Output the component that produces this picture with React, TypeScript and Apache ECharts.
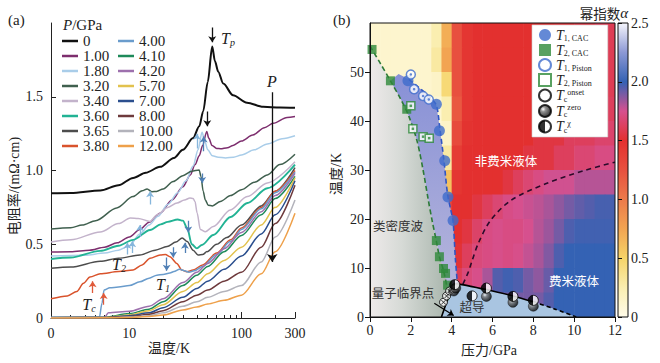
import React, { useEffect, useRef } from 'react';
import * as echarts from 'echarts';

const SERIF = 'Liberation Serif, DejaVu Serif, serif';
const CJK = 'Noto Sans CJK SC, sans-serif';
const MIX = 'Liberation Serif, Noto Sans CJK SC, serif';

// ---------------- Panel (a): resistivity vs temperature ----------------
const pressureLabels = ['0', '1.00', '1.80', '3.20', '3.40', '3.60', '3.65', '3.80', '4.00', '4.10', '4.20', '5.70', '7.00', '8.00', '10.00', '12.00'];
const curveColors = ['#111111', '#7d2e6e', '#a9cde9', '#40604f', '#c3b3cb', '#22b394', '#4d4d4d', '#d9532c', '#6a9ccc', '#1e8a5a', '#9d70ad', '#e2c24e', '#2b4f8e', '#6e3a3c', '#b3b3bb', '#eea04a'];

const rhoP0 = [[2, 0.846], [3, 0.848], [5.5, 0.865], [8, 0.9], [10.8, 0.95], [14, 0.985], [18.8, 1.025], [25, 1.085], [30, 1.14], [37, 1.22], [42, 1.3], [45.5, 1.4], [50, 1.6], [54.8, 1.84], [58, 1.74], [62, 1.67], [68.7, 1.59], [84, 1.51], [112, 1.46], [156, 1.432], [220, 1.427], [300, 1.425]];
const rhoP100 = [[2, 0.448], [3, 0.45], [4.4, 0.46], [6, 0.48], [7.8, 0.51], [10, 0.55], [12.4, 0.6], [15, 0.65], [18.8, 0.71], [24, 0.8], [30, 0.89], [35, 0.97], [38.5, 1.04], [42, 1.1], [45, 1.17], [49, 1.265], [51, 1.22], [54.6, 1.17], [60, 1.15], [65, 1.148], [75, 1.155], [84, 1.17], [100, 1.2], [126, 1.24], [160, 1.29], [192, 1.32], [255, 1.36], [300, 1.366]];
const rhoP180 = [[2, 0.42], [4, 0.425], [6, 0.44], [8, 0.46], [10, 0.49], [12.4, 0.57], [15, 0.63], [18, 0.69], [22, 0.77], [27, 0.85], [32, 0.93], [37, 1.03], [41, 1.14], [44.5, 1.26], [47, 1.2], [50, 1.14], [55, 1.1], [62, 1.09], [72, 1.085], [85, 1.09], [100, 1.105], [130, 1.14], [170, 1.18], [230, 1.215], [300, 1.235]];
const rhoP320 = [[2, 0.604], [3, 0.612], [3.8, 0.63], [5, 0.66], [7.7, 0.746], [10.8, 0.823], [13, 0.862], [14.4, 0.875], [15.9, 0.856], [17.5, 0.858], [20, 0.875], [24.6, 0.925], [30, 0.965], [36, 0.995], [41.9, 1.004], [43.5, 0.96], [45.5, 0.86], [47.6, 0.8], [50.4, 0.765], [55, 0.76], [64.8, 0.79], [80, 0.83], [100, 0.87], [130, 0.92], [170, 0.97], [220, 1.04], [300, 1.11]];
const rhoP340 = [[2, 0.516], [3, 0.53], [5.5, 0.583], [8, 0.64], [10.2, 0.678], [12, 0.675], [15.3, 0.655], [17.7, 0.7], [22, 0.75], [26.6, 0.78], [31, 0.8], [34.7, 0.814], [37, 0.81], [38.5, 0.79], [40.2, 0.712], [42.9, 0.6], [47.6, 0.585], [56, 0.62], [79.5, 0.733], [112.6, 0.823], [170, 0.916], [300, 1.06]];
const rhoP360 = [[2, 0.4], [3, 0.41], [5.5, 0.455], [8, 0.49], [10.8, 0.53], [15.3, 0.597], [19, 0.635], [22, 0.652], [27, 0.668], [30, 0.66], [32.8, 0.61], [36, 0.5], [40, 0.472], [44.3, 0.495], [56, 0.563], [80, 0.685], [113, 0.78], [170, 0.88], [300, 1.04]];
const rhoP365 = [[2, 0.337], [3, 0.345], [5.5, 0.384], [8, 0.405], [12.4, 0.427], [17, 0.46], [21.7, 0.484], [26, 0.515], [29.6, 0.543], [32.8, 0.518], [37, 0.46], [41, 0.427], [45, 0.43], [49.3, 0.45], [60, 0.5], [74, 0.545], [100, 0.63], [150, 0.76], [200, 0.86], [300, 1.02]];
const rhoP380 = [[2, 0.13], [2.8, 0.15], [3.4, 0.18], [3.9, 0.235], [4.45, 0.278], [5.5, 0.3], [8, 0.315], [10.8, 0.326], [13, 0.36], [15.3, 0.405], [18.8, 0.427], [21, 0.43], [23, 0.416], [26.5, 0.37], [29.3, 0.326], [32.6, 0.314], [37, 0.325], [45, 0.36], [60, 0.44], [80, 0.53], [100, 0.61], [150, 0.75], [200, 0.86], [300, 1.0]];
const rhoP400 = [[2, 0.005], [5.4, 0.005], [5.7, 0.1], [5.95, 0.19], [6.7, 0.205], [8, 0.21], [10, 0.22], [12.4, 0.245], [15, 0.27], [17.6, 0.29], [20, 0.295], [23, 0.305], [25, 0.315], [28, 0.33], [31, 0.32], [34, 0.31], [38, 0.32], [45, 0.35], [60, 0.43], [80, 0.52], [100, 0.6], [150, 0.74], [200, 0.85], [300, 0.99]];
const rhoP410 = [[2, 0.003], [6, 0.005], [10, 0.03], [15, 0.06], [20, 0.11], [30, 0.22], [40, 0.29], [50, 0.35], [70, 0.45], [100, 0.56], [150, 0.7], [200, 0.81], [300, 0.96]];
const rhoP420 = [[2, 0.003], [6, 0.005], [6.5, 0.035], [10, 0.045], [15, 0.08], [20, 0.13], [30, 0.24], [40, 0.31], [50, 0.37], [70, 0.47], [100, 0.58], [150, 0.72], [200, 0.83], [300, 0.98]];
const rhoP570 = [[2, 0.002], [6, 0.004], [10, 0.02], [15, 0.05], [20, 0.09], [30, 0.18], [40, 0.24], [50, 0.3], [70, 0.39], [100, 0.48], [150, 0.63], [200, 0.75], [300, 0.95]];
const rhoP700 = [[2, 0.002], [6, 0.003], [10, 0.015], [15, 0.035], [20, 0.07], [30, 0.14], [40, 0.2], [50, 0.25], [70, 0.33], [100, 0.42], [150, 0.57], [200, 0.7], [300, 0.93]];
const rhoP800 = [[2, 0.001], [6, 0.002], [10, 0.01], [15, 0.025], [20, 0.05], [30, 0.11], [40, 0.155], [50, 0.19], [70, 0.25], [100, 0.31], [150, 0.48], [200, 0.64], [300, 0.9]];
const rhoP1000 = [[2, 0.001], [6, 0.002], [10, 0.006], [15, 0.015], [20, 0.035], [30, 0.08], [40, 0.11], [50, 0.14], [70, 0.18], [100, 0.22], [150, 0.38], [200, 0.55], [300, 0.8]];
const rhoP1200 = [[2, 0], [6, 0.001], [10, 0.004], [15, 0.01], [20, 0.02], [30, 0.055], [40, 0.075], [50, 0.095], [70, 0.12], [100, 0.155], [150, 0.3], [200, 0.45], [300, 0.71]];
const rhoCurves = [rhoP0, rhoP100, rhoP180, rhoP320, rhoP340, rhoP360, rhoP365, rhoP380, rhoP400, rhoP410, rhoP420, rhoP570, rhoP700, rhoP800, rhoP1000, rhoP1200];

const tempMajorTicks = [2, 10, 100, 300];
const tempMinorTicks = [3, 4, 5, 6, 7, 8, 9, 20, 30, 40, 50, 60, 70, 80, 90, 200];
const rhoTicks = [0, 0.5, 1.0, 1.5];

// arrows: [T, from rho, to rho]
const arrowsBlack = [[54.8, 1.97, 1.87], [49.5, 1.4, 1.3]];
const arrowsLightBlue = [[40, 1.15, 1.25], [15.3, 0.77, 0.86], [9.6, 0.43, 0.51], [12.4, 0.55, 0.63], [10.6, 0.44, 0.52]];
const arrowsBlue = [[46, 1.13, 1.23], [44.6, 0.98, 0.915], [33.5, 0.66, 0.58], [31.3, 0.44, 0.51], [21.5, 0.41, 0.32], [24.6, 0.48, 0.41]];
const arrowsOrange = [[4.7, 0.17, 0.25], [5.9, 0.09, 0.17]];
const pressureArrow = [[188, 1.53, 0.38]];

// ---------------- Panel (b): phase diagram ----------------
const pCenters = [0.25, 0.75, 1.25, 1.75, 2.25, 2.75, 3.25, 3.75, 4.25, 4.75, 5.25, 5.75, 6.25, 6.75, 7.25, 7.75, 8.25, 8.75, 9.25, 9.75, 10.25, 10.75, 11.25, 11.75];
const tCenters = [57.5, 52.5, 47.5, 42.5, 37.5, 32.5, 27.5, 22.5, 17.5, 12.5, 7.5, 2.5];
const alphaT575 = [0.12, 0.12, 0.12, 0.12, 0.12, 0.12, 0.25, 0.7, 1.25, 1.45, 1.5, 1.5, 1.5, 1.5, 1.5, 1.5, 1.5, 1.5, 1.52, 1.52, 1.55, 1.55, 1.6, 1.6];
const alphaT525 = [0.12, 0.12, 0.12, 0.12, 0.12, 0.12, 0.3, 0.75, 1.25, 1.45, 1.5, 1.5, 1.5, 1.5, 1.5, 1.5, 1.5, 1.5, 1.52, 1.52, 1.55, 1.55, 1.6, 1.6];
const alphaT475 = [0.12, 0.12, 0.12, 0.12, 0.12, 0.12, 0.15, 0.45, 1.25, 1.45, 1.5, 1.5, 1.5, 1.5, 1.5, 1.5, 1.5, 1.5, 1.55, 1.55, 1.55, 1.55, 1.6, 1.6];
const alphaT425 = [0.1, 0.1, 0.1, 0.1, 0.1, 0.1, 0.1, 0.25, 1.2, 1.45, 1.5, 1.5, 1.5, 1.5, 1.5, 1.5, 1.5, 1.55, 1.55, 1.55, 1.62, 1.62, 1.62, 1.62];
const alphaT375 = [0.1, 0.1, 0.1, 0.1, 0.1, 0.1, 0.1, 0.15, 1.3, 1.48, 1.5, 1.5, 1.5, 1.5, 1.5, 1.5, 1.55, 1.55, 1.55, 1.62, 1.62, 1.62, 1.66, 1.66];
const alphaT325 = [0.1, 0.1, 0.1, 0.1, 0.1, 0.1, 0.1, 0.3, 1.4, 1.5, 1.5, 1.5, 1.5, 1.5, 1.5, 1.55, 1.55, 1.55, 1.62, 1.62, 1.68, 1.68, 1.72, 1.72];
const alphaT275 = [0.1, 0.1, 0.1, 0.1, 0.1, 0.1, 0.1, 0.6, 1.45, 1.5, 1.5, 1.5, 1.5, 1.55, 1.62, 1.68, 1.72, 1.76, 1.76, 1.76, 1.8, 1.8, 1.8, 1.8];
const alphaT225 = [0.1, 0.1, 0.1, 0.1, 0.1, 0.1, 0.1, 1.3, 1.5, 1.5, 1.55, 1.62, 1.68, 1.73, 1.75, 1.77, 1.79, 1.82, 1.86, 1.9, 1.93, 1.95, 1.97, 1.97];
const alphaT175 = [0.1, 0.1, 0.1, 0.1, 0.1, 0.1, 0.1, 1.3, 1.5, 1.55, 1.65, 1.72, 1.74, 1.72, 1.72, 1.75, 1.8, 1.84, 1.9, 1.96, 1.98, 1.98, 1.98, 1.98];
const alphaT125 = [0.1, 0.1, 0.1, 0.1, 0.1, 0.1, 0.1, 1.3, 1.52, 1.62, 1.7, 1.72, 1.74, 1.72, 1.74, 1.78, 1.82, 1.88, 1.96, 2, 2, 2, 2, 2];
const alphaT075 = [0.1, 0.1, 0.1, 0.1, 0.1, 0.1, 0.1, 1.3, 1.6, 1.7, 1.74, 1.82, 1.95, 1.98, 1.96, 1.9, 1.86, 1.92, 2, 2, 2, 2, 2, 2];
const alphaT025 = [0.1, 0.1, 0.1, 0.1, 0.1, 0.1, 0.1, 1.5, 1.9, 1.9, 1.9, 1.9, 1.9, 1.9, 1.9, 1.9, 1.9, 1.95, 2, 2, 2, 2, 2, 2];
const alphaRows = [alphaT575, alphaT525, alphaT475, alphaT425, alphaT375, alphaT325, alphaT275, alphaT225, alphaT175, alphaT125, alphaT075, alphaT025];
const alphaColors = ['#fffbea', '#faeeb0', '#f6d468', '#f2a452', '#ec7a4a', '#e8503f', '#e3302f', '#d6508e', '#3462b4', '#8c98d4', '#f6f6fc'];

const cdwLine = [[0, 55.3], [0.5, 51.8], [1.0, 48.2], [1.5, 44.5], [1.9, 41], [2.3, 36], [2.6, 30], [2.85, 24], [3.05, 19.5], [3.25, 15.5], [3.4, 12.3], [3.6, 9.5], [3.75, 6.5], [3.85, 3]];
const t1Line = [[1.9, 48.5], [2.4, 46.8], [2.9, 45], [3.25, 43.2], [3.42, 38.5], [3.62, 32], [3.8, 25], [3.95, 22], [4.07, 19.5], [4.18, 12], [4.28, 6.8]];
const nflBoundary = [[4.55, 6.7], [4.8, 9], [5.0, 11.5], [5.3, 15], [5.9, 19.7], [6.9, 23.8], [8.6, 27.2], [10.5, 29.9], [12, 31.6]];
const domeSolid = [[3.5, 0], [3.75, 3.0], [4.0, 6.2], [4.3, 6.7], [5.0, 6.2], [6.0, 5.3], [7.0, 4.3], [8.0, 3.1]];
const domeDashed = [[8.0, 3.1], [9.0, 1.7], [10.1, 0]];
const qcpArrow = [[3.15, 2.8], [4.1, 0.3]];

const t1Cac = [[1.86, 48.2], [3.25, 43.4], [3.4, 38], [3.66, 31.9], [3.82, 24.5], [4.07, 19.7]];
const t2Cac = [[0.1, 54.6], [1.0, 48.2], [1.8, 42.4], [3.25, 15.6], [3.4, 12.3], [3.6, 9.9], [3.7, 8.9], [3.8, 6.5]];
const t1Piston = [[2.0, 49.5], [2.16, 46.5], [2.6, 45.1], [2.88, 44.4]];
const t2Piston = [[2.0, 43.1], [2.1, 38.4], [2.6, 36.8], [2.9, 36.5]];
const tcOnset = [[3.6, 3.0], [3.75, 4.3], [3.9, 5.3]];
const tcZero = [[4.1, 5.3], [4.2, 5.9], [5.7, 4.2], [7.0, 3.0], [8.0, 2.2]];
const tcChi = [[4.15, 6.6], [5.0, 4.3], [5.7, 5.9], [7.0, 4.2], [8.0, 3.4]];

const pressureTicks = [0, 2, 4, 6, 8, 10, 12];
const tempTicksB = [0, 10, 20, 30, 40, 50];
const alphaTicks = [0, 0.5, 1.0, 1.5, 2.0, 2.5];

const CELL_HALF_P = 0.25;
const CELL_HALF_T = 2.5;

function buildOption() {
  const G = echarts.graphic as any;
  const pairs = (arr: number[][]) => arr.map((a) => ({ coords: [[a[0], a[1]], [a[0], a[2]]] }));
  const arrowSeries = (arr: number[][], color: string, size = 6) => ({
    type: 'lines', coordinateSystem: 'cartesian2d', xAxisIndex: 0, yAxisIndex: 0, silent: true, z: 5,
    symbol: ['none', 'arrow'], symbolSize: size,
    lineStyle: { color, width: 1.3, opacity: 1 },
    data: pairs(arr),
  });

  const lineSeries = rhoCurves.map((d, i) => ({
    type: 'line', name: pressureLabels[i], xAxisIndex: 0, yAxisIndex: 0,
    data: d, showSymbol: false, smooth: 0.3, smoothMonotone: 'x', silent: true,
    color: curveColors[i],
    lineStyle: { color: curveColors[i], width: i === 0 ? 2 : (i === 5 ? 1.9 : 1.5) },
    z: i === 0 ? 4 : 3,
  }));

  const heatData: number[][] = [];
  alphaRows.forEach((row, ri) => row.forEach((a, ci) => heatData.push([pCenters[ci], tCenters[ri], a])));

  const polygonSeries = (pts: number[][], fill: any, z: number) => ({
    type: 'custom', xAxisIndex: 2, yAxisIndex: 1, z, silent: true, clip: true,
    data: [[pts[0][0], pts[0][1]]],
    renderItem: (params: any, api: any) => ({
      type: 'polygon',
      shape: { points: pts.map((p) => api.coord(p)) },
      style: { fill, stroke: 'none' },
    }),
  });

  const grayPoly = [[0, 0], ...cdwLine, [3.9, 0]];
  const lavPoly = [[1.4, 49.6], ...t1Line, [4.0, 6.2], [3.85, 3], ...cdwLine.filter((p) => p[0] >= 1.0 && p[0] <= 3.75).reverse()];
  const domePoly = [...domeSolid, ...domeDashed.slice(1)];

  const bLine = (data: number[][], color: string, type: any, width = 1.6, z = 6) => ({
    type: 'line', xAxisIndex: 2, yAxisIndex: 1, data, showSymbol: false, smooth: 0.3, silent: true, z,
    lineStyle: { color, type, width },
  });

  const halfFill = new G.LinearGradient(0, 0, 1, 0, [
    { offset: 0, color: '#000' }, { offset: 0.5, color: '#000' }, { offset: 0.5, color: '#fff' }, { offset: 1, color: '#fff' },
  ]);
  const sphereFill = new G.RadialGradient(0.35, 0.35, 0.7, [
    { offset: 0, color: '#ffffff' }, { offset: 0.3, color: '#777' }, { offset: 1, color: '#000' },
  ]);
  const xPath = 'path://M0,1 L1,0 L10,9 L9,10 Z M9,0 L10,1 L1,10 L0,9 Z';

  const bScatter = (name: string | undefined, data: number[][], symbol: string, size: number, itemStyle: any, z = 8) => ({
    type: 'scatter', name, xAxisIndex: 2, yAxisIndex: 1, data, symbol, symbolSize: size, itemStyle, silent: true, z,
  });

  const seriesB: any[] = [
    {
      type: 'custom', xAxisIndex: 2, yAxisIndex: 1, z: 1, silent: true, clip: true,
      dimensions: ['P', 'T', 'alpha'], encode: { x: 0, y: 1 },
      data: heatData,
      renderItem: (params: any, api: any) => {
        const p = api.value(0), t = api.value(1);
        const a = api.coord([p - CELL_HALF_P, t + CELL_HALF_T]);
        const b = api.coord([p + CELL_HALF_P, t - CELL_HALF_T]);
        return { type: 'rect', shape: { x: a[0], y: a[1], width: b[0] - a[0] + 0.6, height: b[1] - a[1] + 0.6 }, style: { fill: api.visual('color'), stroke: 'none' } };
      },
    },
    polygonSeries(grayPoly, new G.LinearGradient(0, 0, 1, 0, [
      { offset: 0, color: '#eeeaea' }, { offset: 0.4, color: '#d6dad6' }, { offset: 1, color: '#a7b4ab' },
    ]), 2),
    polygonSeries(lavPoly, new G.LinearGradient(0, 0, 0, 1, [
      { offset: 0, color: '#8790d6' }, { offset: 1, color: '#b9b8dc' },
    ]), 2),
    polygonSeries(domePoly, '#a9c5e1', 3),
    bLine(cdwLine, '#2c7a36', [5, 3]),
    bLine(t1Line, '#2f55c4', [5, 3]),
    bLine(nflBoundary, '#2b0b2a', [5, 4]),
    bLine(domeSolid, '#000', 'solid', 1.6, 7),
    bLine(domeDashed, '#000', [4, 3], 1.6, 7),
    {
      type: 'lines', coordinateSystem: 'cartesian2d', xAxisIndex: 2, yAxisIndex: 1, silent: true, z: 9,
      symbol: ['none', 'arrow'], symbolSize: 6, lineStyle: { color: '#000', width: 1.2, opacity: 1 },
      data: [{ coords: qcpArrow }],
    },
    bScatter('T1CAC', t1Cac, 'circle', 11, { color: '#3d6ccc' }),
    bScatter('T2CAC', t2Cac, 'rect', 9, { color: '#2e8a3a' }),
    bScatter('T1Piston', t1Piston, 'circle', 9, { color: '#fff', borderColor: '#3d6ccc', borderWidth: 1.5 }),
    bScatter(undefined, t1Piston, 'circle', 2.5, { color: '#3d6ccc' }, 9),
    bScatter('T2Piston', t2Piston, 'rect', 8, { color: '#fff', borderColor: '#2e8a3a', borderWidth: 1.5 }),
    bScatter(undefined, t2Piston, 'rect', 2.5, { color: '#2e8a3a' }, 9),
    bScatter('TcOnset', tcOnset, 'circle', 8, { color: '#fff', borderColor: '#000', borderWidth: 1 }),
    bScatter(undefined, tcOnset, xPath, 5, { color: '#000' }, 9),
    bScatter('TcZero', tcZero, 'circle', 10, { color: sphereFill, borderColor: '#000', borderWidth: 0.5 }),
    bScatter('TcChi', tcChi, 'circle', 10, { color: halfFill, borderColor: '#000', borderWidth: 1 }),
  ];

  const legendBNames: Record<string, string> = {
    T1CAC: '{t|T}{s|1, CAC}',
    T2CAC: '{t|T}{s|2, CAC}',
    T1Piston: '{t|T}{s|1, Piston}',
    T2Piston: '{t|T}{s|2, Piston}',
    TcOnset: '{t|T}{s|c}{u|onset}',
    TcZero: '{t|T}{s|c}{u|zero}',
    TcChi: '{t|T}{s|c}{u|χ}',
  };

  const legendA = (names: string[], left: number) => ({
    data: names, orient: 'vertical', left, top: 33.5, padding: 0, itemGap: 0, itemTextGap: 3,
    itemWidth: 16, itemHeight: 2.5, icon: 'rect', selectedMode: false,
    textStyle: { fontFamily: SERIF, fontSize: 15, lineHeight: 13, color: '#222' },
  });

  const text = (x: number, y: number, t: string, extra: any = {}, rotation = 0) => ({
    type: 'text', x, y, rotation, silent: true, z: 100,
    style: { text: t, fill: '#222', fontFamily: SERIF, fontSize: 14, align: 'center', verticalAlign: 'middle', ...extra },
  });
  const subRich = {
    i: { fontFamily: SERIF, fontStyle: 'italic', fontSize: 16, lineHeight: 18, fill: '#222' },
    s: { fontFamily: SERIF, fontStyle: 'italic', fontSize: 10, lineHeight: 10, verticalAlign: 'bottom', fill: '#222' },
  };

  return {
    animation: false,
    backgroundColor: '#ffffff',
    textStyle: { fontFamily: MIX },
    grid: [
      { left: 51, top: 23, width: 244, height: 295, show: false },
      { left: 370, top: 23, width: 245, height: 294, show: true, backgroundColor: 'transparent', borderColor: '#111', borderWidth: 1, z: 10 },
      { left: 618, top: 23, width: 10, height: 294, show: true, backgroundColor: 'transparent', borderColor: '#111', borderWidth: 1, z: 10 },
    ],
    xAxis: [
      {
        type: 'log', logBase: 10, gridIndex: 0, min: 2, max: 300,
        axisLine: { show: true, lineStyle: { color: '#222', width: 1 } },
        axisTick: { show: true, inside: true, length: 6, customValues: tempMajorTicks, lineStyle: { color: '#222' } },
        axisLabel: {
          customValues: tempMajorTicks, margin: 8, color: '#222', fontFamily: SERIF, fontSize: 14,
          formatter: (v: number) => (Math.abs(v - 2) < 1e-6 ? '0' : String(Math.round(v))),
        },
        splitLine: { show: false },
      },
      {
        type: 'log', logBase: 10, gridIndex: 0, min: 2, max: 300, position: 'bottom',
        axisLine: { show: false },
        axisTick: { show: true, inside: true, length: 3, customValues: tempMinorTicks, lineStyle: { color: '#222' } },
        axisLabel: { show: false },
        splitLine: { show: false },
      },
      {
        type: 'value', gridIndex: 1, min: 0, max: 12, interval: 2, z: 10,
        axisLine: { show: true, onZero: false, lineStyle: { color: '#111' } },
        axisTick: { show: true, length: 5, customValues: pressureTicks, lineStyle: { color: '#111' } },
        axisLabel: { customValues: pressureTicks, margin: 6, color: '#222', fontFamily: SERIF, fontSize: 14 },
        splitLine: { show: false },
      },
      { type: 'value', gridIndex: 2, min: 0, max: 1, show: false },
    ],
    yAxis: [
      {
        type: 'value', gridIndex: 0, min: 0, max: 2, interval: 0.5,
        axisLine: { show: true, lineStyle: { color: '#222' } },
        axisTick: { show: true, inside: true, length: 5, customValues: rhoTicks, lineStyle: { color: '#222' } },
        axisLabel: {
          customValues: rhoTicks, margin: 8, color: '#222', fontFamily: SERIF, fontSize: 14,
          formatter: (v: number) => (v === 0 ? '0' : v.toFixed(1)),
        },
        splitLine: { show: false },
      },
      {
        type: 'value', gridIndex: 1, min: 0, max: 60, interval: 10, z: 10,
        axisLine: { show: true, onZero: false, lineStyle: { color: '#111' } },
        axisTick: { show: true, length: 5, customValues: tempTicksB, lineStyle: { color: '#111' } },
        axisLabel: { customValues: tempTicksB, margin: 6, color: '#222', fontFamily: SERIF, fontSize: 14 },
        splitLine: { show: false },
      },
      {
        type: 'value', gridIndex: 2, min: 0, max: 2.5, interval: 0.5, position: 'right', z: 10,
        axisLine: { show: false },
        axisTick: { show: true, length: 4, customValues: alphaTicks, lineStyle: { color: '#111' } },
        axisLabel: {
          customValues: alphaTicks, margin: 3, color: '#222', fontFamily: SERIF, fontSize: 14,
          formatter: (v: number) => (v === 0 ? '0' : v.toFixed(1)),
        },
        splitLine: { show: false },
      },
    ],
    visualMap: [{
      type: 'continuous', seriesIndex: 16 + 5, dimension: 2, min: 0, max: 2.5,
      calculable: false, left: 618, top: 23, itemWidth: 10, itemHeight: 294, padding: 0,
      inRange: { color: alphaColors },
    }],
    legend: [
      legendA(pressureLabels.slice(0, 8), 62),
      legendA(pressureLabels.slice(8), 118),
      {
        data: ['T1CAC', 'T2CAC', 'T1Piston', 'T2Piston', 'TcOnset', 'TcZero', 'TcChi'],
        orient: 'vertical', left: 532, top: 25, padding: [3, 16, 3, 6], itemGap: 0.5, itemTextGap: 4,
        itemWidth: 12, itemHeight: 12, selectedMode: false,
        backgroundColor: '#ffffff', borderColor: '#cccccc', borderWidth: 0.6,
        formatter: (n: string) => legendBNames[n] || n,
        textStyle: {
          color: '#222', fontFamily: SERIF,
          rich: {
            t: { fontFamily: SERIF, fontStyle: 'italic', fontSize: 14, lineHeight: 15, color: '#222' },
            s: { fontFamily: SERIF, fontSize: 8, lineHeight: 8, verticalAlign: 'bottom', color: '#222' },
            u: { fontFamily: SERIF, fontSize: 8, lineHeight: 8, verticalAlign: 'top', color: '#222' },
          },
        },
      },
    ],
    series: [
      ...lineSeries,
      arrowSeries(arrowsBlack, '#111'),
      arrowSeries(arrowsLightBlue, '#86b6dc'),
      arrowSeries(arrowsBlue, '#4f7fb5'),
      arrowSeries(arrowsOrange, '#e05a3a'),
      arrowSeries(pressureArrow, '#111', 8),
      ...seriesB,
    ],
    graphic: [
      text(8, 20, '(a)', { align: 'left', fontSize: 15 }),
      text(333, 20, '(b)', { align: 'left', fontSize: 15 }),
      text(63, 25, '{i|P}{n|/GPa}', { align: 'left', rich: { i: { fontFamily: SERIF, fontStyle: 'italic', fontSize: 15, fill: '#222' }, n: { fontFamily: SERIF, fontSize: 15, fill: '#222' } } }),
      text(228, 38, '{i|T}{s|p}', { rich: subRich }),
      text(272, 81, 'P', { fontStyle: 'italic', fontSize: 16 }),
      text(119, 264, '{i|T}{s|2}', { rich: subRich }),
      text(163, 284, '{i|T}{s|1}', { rich: subRich }),
      text(89, 304, '{i|T}{s|c}', { rich: subRich }),
      text(14, 186, '电阻率/(mΩ·cm)', { fontFamily: MIX, fontSize: 14 }, Math.PI / 2),
      text(169, 348, '温度/K', { fontFamily: MIX, fontSize: 14 }),
      text(336, 174, '温度/K', { fontFamily: MIX, fontSize: 14 }, Math.PI / 2),
      text(489, 350, '压力/GPa', { fontFamily: MIX, fontSize: 14 }),
      text(628, 13, '{c|幂指数}{i|α}', { align: 'right', rich: { c: { fontFamily: CJK, fontSize: 13.5, fill: '#222' }, i: { fontFamily: SERIF, fontStyle: 'italic', fontSize: 15, fill: '#222' } } }),
      text(506, 160, '非费米液体', { fontFamily: CJK, fontSize: 12.5, fill: '#ffffff' }),
      text(574, 280, '费米液体', { fontFamily: CJK, fontSize: 12.5, fill: '#ffffff' }),
      text(398, 225, '类密度波', { fontFamily: CJK, fontSize: 12.5, fill: '#333' }),
      text(403, 292, '量子临界点', { fontFamily: CJK, fontSize: 12.5, fill: '#333' }),
      text(472, 306, '超导', { fontFamily: CJK, fontSize: 12.5, fill: '#333' }),
    ],
  };
}

export default function App() {
  const ref = useRef<HTMLDivElement>(null);
  useEffect(() => {
    if (!ref.current) return;
    const chart = echarts.init(ref.current, null, { renderer: 'svg' });
    chart.setOption(buildOption() as any);
    return () => chart.dispose();
  }, []);
  return <div ref={ref} style={{ position: 'fixed', left: 0, top: 0, width: 660, height: 363, background: '#fff' }} />;
}
